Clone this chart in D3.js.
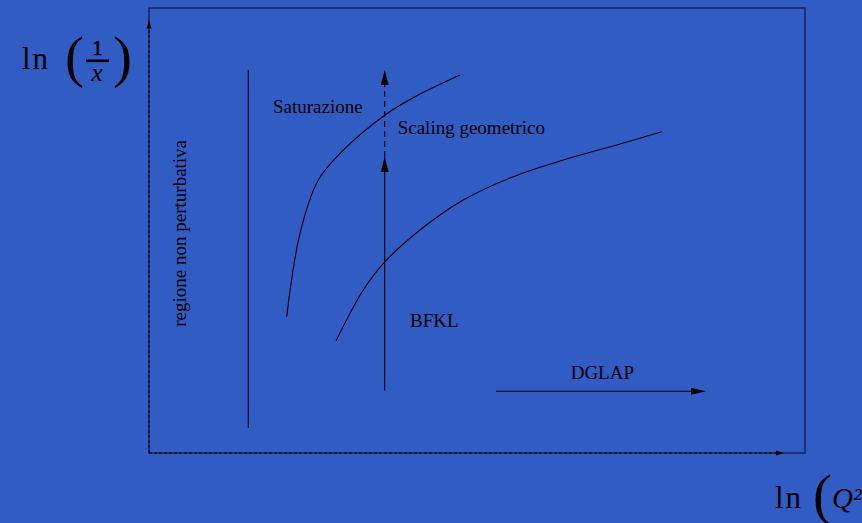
<!DOCTYPE html>
<html>
<head>
<meta charset="utf-8">
<script src="https://cdn.jsdelivr.net/npm/d3@7/dist/d3.min.js"></script>
<style>
  html, body { margin: 0; padding: 0; background: #315cc4; overflow: hidden; }
  svg { display: block; }
  text { font-family: "Liberation Serif", "Times New Roman", serif; fill: #000; }
</style>
</head>
<body>
<svg id="chart" width="862" height="523"></svg>
<script>
// Phase diagram of QCD evolution in the (ln Q², ln 1/x) plane, axis units 0..10

// Saturation boundary Q_s(x)
const saturationLine = [
  [2.099, 3.063], [2.302, 4.937], [2.581, 6.135], [2.938, 6.771],
  [3.598, 7.596], [4.055, 8.007], [4.741, 8.494]
];

// Upper edge of the geometric scaling window
const scalingLine = [
  [2.851, 2.524], [3.267, 3.663], [3.598, 4.299], [4.131, 5.011],
  [4.791, 5.685], [5.553, 6.209], [6.316, 6.584], [7.078, 6.899],
  [7.816, 7.220]
];

// Non-perturbative boundary (vertical line at fixed ln Q²)
const nonPertLine = [[1.514, 0.562], [1.514, 8.607]];

// BFKL evolution arrow: solid part, then dashed continuation
const bfklSolid = [[3.593, 1.40], [3.593, 6.652]];
const bfklDashed = [[3.593, 6.652], [3.593, 8.607]];

// DGLAP evolution arrow
const dglapArrow = [[5.29, 1.387], [8.491, 1.387]];

// Region labels
const regionLabels = ["Saturazione", "Scaling geometrico", "BFKL", "DGLAP"];
const regionAnchors = [[1.89, 7.634], [3.791, 7.169], [3.979, 2.838], [6.428, 1.656]];
const verticalLabel = "regione non perturbativa";
const verticalAnchor = [0.564, 2.838];

// Axis extents
const xDomain = [0, 10];
const yDomain = [0, 10];
const xAxisEnd = 9.68;
const yAxisEnd = 9.719;

const svg = d3.select("#chart");
const frame = { left: 149, right: 805, top: 8, bottom: 453 };

const x = d3.scaleLinear().domain(xDomain).range([frame.left, frame.right]);
const y = d3.scaleLinear().domain(yDomain).range([frame.bottom, frame.top]);

const line = d3.line().x(d => x(d[0])).y(d => y(d[1]));
const smooth = d3.line().x(d => x(d[0])).y(d => y(d[1])).curve(d3.curveCatmullRom.alpha(0.5));

// Arrowhead triangle pointing from p0 toward p1 (pixel coords)
function arrowHead(g, p0, p1, len, half) {
  const dx = p1[0] - p0[0], dy = p1[1] - p0[1];
  const L = Math.hypot(dx, dy);
  const ux = dx / L, uy = dy / L;
  const bx = p1[0] - ux * len, by = p1[1] - uy * len;
  const pts = [
    [p1[0], p1[1]],
    [bx - uy * half, by + ux * half],
    [bx + uy * half, by - ux * half]
  ];
  g.append("path")
    .attr("d", "M" + pts.map(p => p.join(",")).join("L") + "Z")
    .attr("fill", "#000");
}

const px = d => [x(d[0]), y(d[1])];

// Frame
svg.append("rect")
  .attr("x", frame.left).attr("y", frame.top)
  .attr("width", frame.right - frame.left)
  .attr("height", frame.bottom - frame.top)
  .attr("fill", "none")
  .attr("stroke", "#14224f")
  .attr("stroke-width", 1.4);

// Axes: dashed with small arrowheads
const axes = svg.append("g");
axes.append("path")
  .attr("d", line([[xDomain[0], yDomain[0]], [xDomain[0], yAxisEnd]]))
  .attr("stroke", "#000").attr("stroke-width", 1)
  .attr("stroke-dasharray", "3,2").attr("fill", "none");
arrowHead(axes, px([0, 0]), px([0, yAxisEnd]), 8, 2.5);
axes.append("path")
  .attr("d", line([[xDomain[0], yDomain[0]], [xAxisEnd, yDomain[0]]]))
  .attr("stroke", "#000").attr("stroke-width", 1)
  .attr("stroke-dasharray", "3,2").attr("fill", "none");
arrowHead(axes, px([0, 0]), px([xAxisEnd, 0]), 8, 2.5);

// Curves and lines
const marks = svg.append("g").attr("fill", "none").attr("stroke", "#000").attr("stroke-width", 1.1);
marks.append("path").attr("d", line(nonPertLine));
marks.append("path").attr("d", smooth(saturationLine));
marks.append("path").attr("d", smooth(scalingLine));
marks.append("path").attr("d", line(bfklSolid));
marks.append("path").attr("d", line([bfklDashed[0], [bfklDashed[1][0], y.invert(y(bfklDashed[1][1]) + 12)]]))
  .attr("stroke-dasharray", "6,4");
marks.append("path").attr("d", line([dglapArrow[0], [x.invert(x(dglapArrow[1][0]) - 10), dglapArrow[1][1]]]));

const heads = svg.append("g");
arrowHead(heads, px(bfklSolid[0]), px(bfklSolid[1]), 15, 4);
arrowHead(heads, px(bfklDashed[0]), px(bfklDashed[1]), 15, 4);
arrowHead(heads, px(dglapArrow[0]), px(dglapArrow[1]), 15, 3.5);

// Region labels
svg.append("g").selectAll("text")
  .data(regionLabels)
  .join("text")
  .attr("x", (d, i) => x(regionAnchors[i][0]))
  .attr("y", (d, i) => y(regionAnchors[i][1]))
  .attr("font-size", 19)
  .text(d => d);

svg.append("text")
  .attr("transform", `translate(${x(verticalAnchor[0])},${y(verticalAnchor[1])}) rotate(-90)`)
  .attr("font-size", 19)
  .text(verticalLabel);

// Axis titles: ln(1/x) and ln(Q²/...)
const yTitle = svg.append("g");
yTitle.append("text").attr("x", 22).attr("y", 69).attr("font-size", 31).attr("letter-spacing", 2).text("ln");
yTitle.append("text").attr("x", 65).attr("y", 76).attr("font-size", 57).text("(");
yTitle.append("text").attr("x", 97.5).attr("y", 55).attr("font-size", 21)
  .attr("text-anchor", "middle").attr("stroke", "#000").attr("stroke-width", 0.6).text("1");
yTitle.append("rect").attr("x", 86).attr("y", 59.5).attr("width", 23).attr("height", 2.6).attr("fill", "#000");
yTitle.append("text").attr("x", 97).attr("y", 81).attr("font-size", 26).attr("font-style", "italic")
  .attr("text-anchor", "middle").text("x");
yTitle.append("text").attr("x", 113).attr("y", 76).attr("font-size", 57).text(")");

const xTitle = svg.append("g");
xTitle.append("text").attr("x", 775).attr("y", 508).attr("font-size", 31).attr("letter-spacing", 2).text("ln");
xTitle.append("text").attr("x", 813).attr("y", 514).attr("font-size", 57).text("(");
xTitle.append("text").attr("x", 832).attr("y", 508).attr("font-size", 29).attr("font-style", "italic").text("Q²");
</script>
</body>
</html>
